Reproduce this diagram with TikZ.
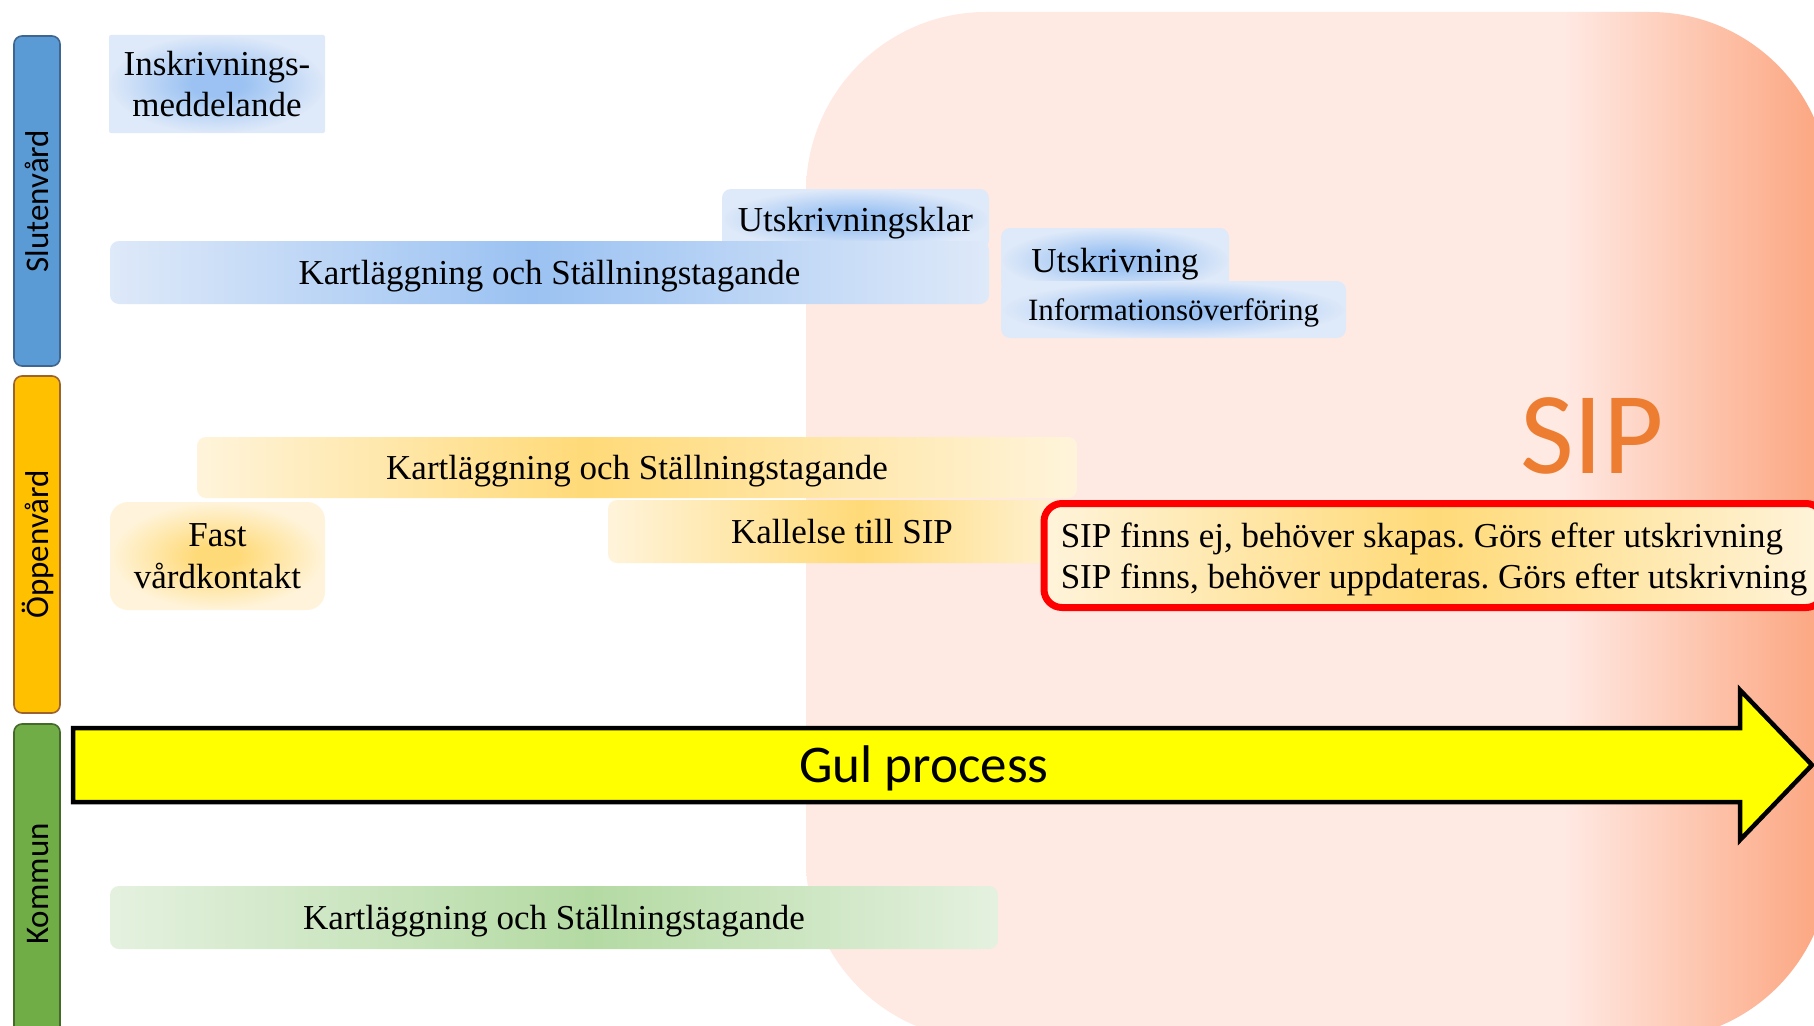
\documentclass[tikz,border=0pt]{standalone}
\usepackage{fontspec}
\setmainfont{Liberation Serif}
\newfontfamily\calib{Carlito}
\definecolor{bluD}{HTML}{9BC2F2}
\definecolor{bluL}{HTML}{DEE9F9}
\definecolor{yelD}{HTML}{FFDA78}
\definecolor{yelL}{HTML}{FFF4DB}
\definecolor{grnD}{HTML}{B4DAA3}
\definecolor{grnL}{HTML}{E4F1DF}
\definecolor{sipP}{HTML}{FFE9E3}
\definecolor{sipD}{HTML}{FCA985}
\definecolor{sipO}{HTML}{ED7D31}
\definecolor{slutF}{HTML}{5B9BD5}
\definecolor{slutB}{HTML}{3E6690}
\definecolor{oppF}{HTML}{FFC000}
\definecolor{oppB}{HTML}{9C6230}
\definecolor{komF}{HTML}{70AD47}
\definecolor{komB}{HTML}{44692B}
\definecolor{redB}{HTML}{FF0000}
\definecolor{gul}{HTML}{FFFF00}
\pgfdeclarehorizontalshading{sipbg}{100bp}{color(0bp)=(sipP); color(25bp)=(sipP); color(62bp)=(sipP); color(74bp)=(sipD); color(100bp)=(sipD)}
\pgfdeclarehorizontalshading{kartblue}{100bp}{color(0bp)=(bluL); color(25bp)=(bluL); color(49bp)=(bluD); color(75bp)=(bluL); color(100bp)=(bluL)}
\pgfdeclarehorizontalshading{kartyel}{100bp}{color(0bp)=(yelL); color(25bp)=(yelL); color(47bp)=(yelD); color(75bp)=(yelL); color(100bp)=(yelL)}
\pgfdeclarehorizontalshading{kallyel}{100bp}{color(0bp)=(yelL); color(25bp)=(yelL); color(52bp)=(yelD); color(75bp)=(yelL); color(100bp)=(yelL)}
\pgfdeclarehorizontalshading{redyel}{100bp}{color(0bp)=(yelL); color(25bp)=(yelL); color(50bp)=(yelD); color(75bp)=(yelL); color(100bp)=(yelL)}
\pgfdeclarehorizontalshading{kartgrn}{100bp}{color(0bp)=(grnL); color(25bp)=(grnL); color(52bp)=(grnD); color(75bp)=(grnL); color(100bp)=(grnL)}
\pgfdeclareradialshading{radb}{\pgfpoint{0bp}{0bp}}{color(0bp)=(bluD); color(6bp)=(bluD); color(25bp)=(bluL); color(50bp)=(bluL)}
\pgfdeclareradialshading{rady}{\pgfpoint{0bp}{0bp}}{color(0bp)=(yelD); color(5bp)=(yelD); color(25bp)=(yelL); color(50bp)=(yelL)}
\begin{document}
\frenchspacing
\begin{tikzpicture}[x=1pt,y=-1pt,
  lane/.style={rotate=90, minimum height=46pt, rounded corners=8pt, line width=1.6pt,
    inner sep=0pt, text=black, font=\calib\fontsize{33}{40}\selectfont, text height=22pt, text depth=0pt},
  gbox/.style={inner sep=0pt, rounded corners=9pt, align=center, text depth=0pt,
    font=\fontsize{35}{41.5}\selectfont},
  radblue/.style={gbox, shade, shading=radb},
  hshade/.style={gbox, shade, shading=#1}
]
\useasboundingbox (0,0) rectangle (1814,1025);
\clip (0,0) rectangle (1814,1025);
\fill[white] (0,0) rectangle (1814,1025);
% SIP background
\shade[shading=sipbg, rounded corners=180pt] (806,12) rectangle (1830,1040);
\node[inner sep=0pt, text=sipO, font=\calib\fontsize{117}{117}\selectfont, text depth=0pt] (sip) at (1592,435.5) {SIP};
% lanes
\node[lane, fill=slutF, draw=slutB, minimum width=330pt] (lsl) at (37,201) {Slutenvård};
\node[lane, fill=oppF, draw=oppB, minimum width=337pt] (lop) at (37,544.5) {Öppenvård};
\node[lane, fill=komF, draw=komB, minimum width=320pt] (lko) at (37,884) {Kommun};
% Slutenvård boxes
\node[radblue, rounded corners=2pt, minimum width=216pt, minimum height=98pt] (insk) at (217,84) {Inskrivnings-\\meddelande};
\node[radblue, minimum width=267pt, minimum height=60pt] (uklar) at (855.5,219) {Utskrivningsklar};
\node[hshade=kartblue, minimum width=879pt, minimum height=63pt] (kartS) at (549.5,272.5) {Kartläggning och Ställningstagande};
\node[radblue, minimum width=228pt, minimum height=64pt] (utskr) at (1115,260) {Utskrivning};
\node[radblue, minimum width=345pt, minimum height=57pt, font=\fontsize{31}{37}\selectfont] (info) at (1173.5,309.5) {Informationsöverföring};
% Öppenvård boxes
\node[hshade=kartyel, minimum width=880pt, minimum height=61pt] (kartO) at (637,467.5) {Kartläggning och Ställningstagande};
\node[gbox, shade, shading=rady, rounded corners=18pt, minimum width=215pt, minimum height=108pt] (fast) at (217.5,556) {Fast\\vårdkontakt};
\node[hshade=kallyel, minimum width=468pt, minimum height=63pt] (kall) at (842,531.5) {Kallelse till SIP};
\node[hshade=redyel, draw=redB, line width=7pt, rounded corners=18pt, align=left, minimum width=780pt, minimum height=104pt] (sipbox) at (1434,555.5) {SIP finns ej, behöver skapas. Görs efter utskrivning\\SIP finns, behöver uppdateras. Görs efter utskrivning};
% Gul process arrow
\filldraw[fill=gul, draw=black, line width=4.5pt, miter limit=10] (73,728) -- (1740,728) -- (1740,690) -- (1812,765) -- (1740,840) -- (1740,802) -- (73,802) -- cycle;
\node[inner sep=0pt, font=\calib\fontsize{53}{60}\selectfont, text height=34pt, text depth=0pt] (gul) at (924,765) {Gul process};
% Kommun box
\node[hshade=kartgrn, minimum width=888pt, minimum height=63pt] (kartK) at (554,917.5) {Kartläggning och Ställningstagande};
\end{tikzpicture}
\end{document}
